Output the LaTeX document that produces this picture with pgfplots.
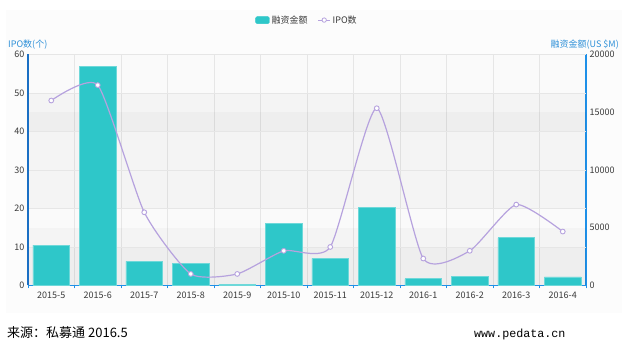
\documentclass[border=0pt]{standalone}
\usepackage{pgfplots}
\pgfplotsset{compat=1.18}
\usepackage{fontspec}
\setmainfont{Noto Sans CJK SC}
\newfontfamily\monofont{Liberation Mono}
\definecolor{barc}{HTML}{2EC7C9}
\definecolor{barb}{HTML}{6ED8D9}
\definecolor{linec}{HTML}{B6A2DE}
\definecolor{lax}{HTML}{1A6FC4}
\definecolor{rax}{HTML}{1E90E8}
\definecolor{axname}{HTML}{2E90D8}
\definecolor{txt}{HTML}{3A3A3A}
\definecolor{gridc}{HTML}{E6E6E6}
\definecolor{chartbg}{HTML}{FCFCFC}
\definecolor{plotbg}{HTML}{FAFAFA}
\begin{document}
\begin{tikzpicture}
\useasboundingbox (0,0) rectangle (640pt,363pt);
\fill[chartbg] (6pt,353pt) rectangle (622pt,50pt);
% bars on right axis
\begin{axis}[
  at={(28pt,77.5pt)}, anchor=south west, scale only axis,
  width=558pt, height=231.2pt,
  xmin=-0.5, xmax=11.5, ymin=0, ymax=20000,
  axis y line*=right, axis x line*=bottom,
  x axis line style={rax, line width=1.2pt, -},
  y axis line style={rax, line width=1.4pt, -},
  axis background/.style={fill=plotbg},
  xtick={0,...,11},
  xticklabels={2015-5,2015-6,2015-7,2015-8,2015-9,2015-10,2015-11,2015-12,2016-1,2016-2,2016-3,2016-4},
  minor xtick={-0.5,0.5,...,11.5},
  xminorgrids, minor grid style={gridc, line width=0.5pt},
  major tick length=0pt, minor tick length=3pt, tick align=outside,
  minor tick style={rax, line width=0.8pt},
  ytick={0,5000,10000,15000,20000},
  scaled y ticks=false,
  ytick style={draw=none},
  /pgf/number format/assume math mode=true,
  /pgf/number format/1000 sep={},
  xticklabel style={font=\fontsize{9}{9}\selectfont, text=txt, yshift=-2.5pt},
  yticklabel style={font=\fontsize{9}{9}\selectfont, text=txt},
]
\fill[black, opacity=0.025] (axis cs:-0.5,13333.3) rectangle (axis cs:11.5,16666.7);
\fill[black, opacity=0.025] (axis cs:-0.5,6666.7) rectangle (axis cs:11.5,10000);
\fill[black, opacity=0.025] (axis cs:-0.5,0) rectangle (axis cs:11.5,3333.3);
\fill[black, opacity=0.025] (axis cs:-0.5,10000) rectangle (axis cs:11.5,15000);
\fill[black, opacity=0.025] (axis cs:-0.5,0) rectangle (axis cs:11.5,5000);
\draw[gridc, line width=0.5pt] (axis cs:-0.5,3333.3) -- (axis cs:11.5,3333.3);
\draw[gridc, line width=0.5pt] (axis cs:-0.5,6666.7) -- (axis cs:11.5,6666.7);
\draw[gridc, line width=0.5pt] (axis cs:-0.5,10000) -- (axis cs:11.5,10000);
\draw[gridc, line width=0.5pt] (axis cs:-0.5,13333.3) -- (axis cs:11.5,13333.3);
\draw[gridc, line width=0.5pt] (axis cs:-0.5,16666.7) -- (axis cs:11.5,16666.7);
\draw[gridc, line width=0.5pt] (axis cs:-0.5,19990) -- (axis cs:11.5,19990);
\addplot[ybar, bar width=0.79, fill=barc, draw=barb, line width=0.6pt]
 coordinates {(0,3500) (1,18930) (2,2080) (3,1900) (4,110) (5,5400) (6,2340) (7,6750) (8,580) (9,780) (10,4130) (11,750)};
\end{axis}
% line on left axis
\begin{axis}[
  at={(28pt,77.5pt)}, anchor=south west, scale only axis,
  width=558pt, height=231.2pt,
  xmin=-0.5, xmax=11.5, ymin=0, ymax=60,
  axis y line*=left, axis x line=none,
  y axis line style={lax, line width=1.3pt, -},
  ytick={0,10,...,60}, ytick style={draw=none},
  major tick length=0pt,
  /pgf/number format/assume math mode=true,
  yticklabel style={font=\fontsize{9}{9}\selectfont, text=txt},
  clip=false,
  legend style={at={(0.5,1.148)}, anchor=center, draw=none, fill=none,
    font=\fontsize{9}{9}\selectfont, text=txt,
    /tikz/every even column/.append style={column sep=8pt}},
  legend columns=2,
]
\addlegendimage{legend image code/.code={\fill[barc, rounded corners=1.5pt] (0pt,-3.5pt) rectangle (14pt,3.5pt);}}
\addlegendentry{融资金额}
\addplot[linec, line width=1.2pt, smooth, tension=0.35,
  mark=*, mark size=2.4pt, mark options={fill=white, draw=linec, line width=0.9pt},
  legend image code/.code={\draw[linec, line width=1pt] (0pt,0pt) -- (12pt,0pt); \draw[linec, fill=white, line width=0.8pt] (6pt,0pt) circle (2.2pt);}]
 coordinates {(0,48) (1,52) (2,19) (3,3) (4,3) (5,9) (6,10) (7,46) (8,7) (9,9) (10,21) (11,14)};
\addlegendentry{IPO数}
\end{axis}
\node[anchor=west, text=axname, font=\fontsize{9}{9}\selectfont, inner sep=0pt] at (8pt,318pt) {IPO数(个)};
\node[anchor=east, text=axname, font=\fontsize{9}{9}\selectfont, inner sep=0pt] at (619pt,318pt) {融资金额(US \$M)};
\node[anchor=west, font=\fontsize{13}{13}\selectfont, inner sep=0pt] at (7pt,30pt) {来源：私募通 2016.5};
\node[anchor=west, font=\monofont\fontsize{11.7}{12}\selectfont, inner sep=0pt] at (474pt,29pt) {www.pedata.cn};
\end{tikzpicture}
\end{document}
